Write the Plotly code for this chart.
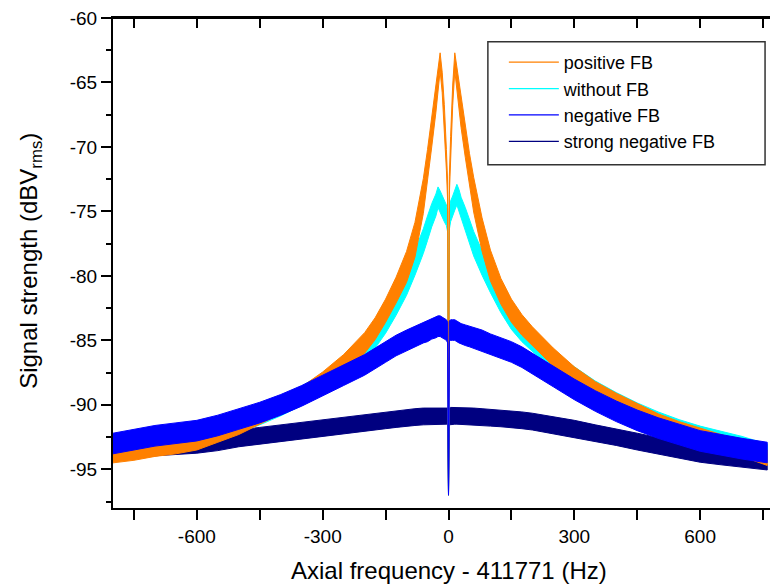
import plotly.graph_objects as go

# ---------------- data ----------------
FREQ = [-800, -750, -700, -650, -600, -550, -500, -450, -400, -350, -300, -250,
        -200, -175, -150, -125, -100, -80, -60, -50, -40, -30, -25, -20, -15,
        -10, -5, -2, 0, 2, 5, 10, 15, 20, 25, 30, 40, 50, 60, 80, 100, 125,
        150, 175, 200, 250, 300, 350, 400, 450, 500, 550, 600, 650, 700, 760]

# mean level of each noisy spectrum (dBVrms)
POSITIVE_FB = [-93.9, -93.7, -93.4, -93.2, -92.9, -92.3, -91.7, -90.9, -90.1, -89.2, -88.1, -86.8,
               -85.2, -84.1, -82.7, -81.1, -79.3, -77.2, -73.8, -71.5, -68.8, -66.3, -64.9, -63.4, -65.0,
               -67.5, -71.0, -73.5, -97.0, -73.0, -70.0, -66.0, -63.4, -64.7, -66.0, -67.4, -69.6, -71.8, -73.7, -76.8, -79.2, -81.2,
               -82.7, -83.8, -84.7, -86.3, -87.7, -88.8, -89.7, -90.5, -91.3, -91.9, -92.4, -92.9, -93.4, -94.1]
WITHOUT_FB = [-93.6, -93.4, -93.1, -92.8, -92.5, -92.0, -91.4, -90.8, -90.1, -89.3, -88.3, -87.1,
              -85.7, -84.8, -83.6, -82.2, -80.6, -79.0, -77.3, -76.3, -75.3, -74.5, -73.9, -74.2, -74.6,
              -75.0, -75.3, -75.8, -97.0, -75.6, -75.0, -74.6, -74.1, -73.7, -74.1, -74.7, -75.6, -76.5, -77.5, -79.0, -80.4, -82.0,
              -83.3, -84.3, -85.1, -86.6, -87.8, -88.9, -89.8, -90.6, -91.3, -91.9, -92.4, -92.8, -93.2, -93.8]
NEGATIVE_FB = [-93.0, -92.7, -92.4, -92.2, -92.0, -91.6, -91.1, -90.6, -90.0, -89.3, -88.5, -87.7,
               -86.9, -86.4, -85.9, -85.4, -85.0, -84.7, -84.4, -84.3, -84.1, -84.0, -83.9, -83.9, -84.0,
               -84.1, -84.2, -84.4, -97.0, -84.3, -84.2, -84.2, -84.2, -84.3, -84.4, -84.5, -84.6, -84.7, -84.8, -85.0, -85.3, -85.6,
               -85.9, -86.3, -86.8, -87.8, -88.8, -89.7, -90.5, -91.2, -91.8, -92.3, -92.8, -93.1, -93.4, -93.7]
STRONG_NEGATIVE_FB = [-93.5, -93.4, -93.3, -93.2, -93.1, -92.9, -92.6, -92.4, -92.2, -92.0, -91.8, -91.6,
                      -91.4, -91.3, -91.2, -91.1, -91.0, -90.95, -90.9, -90.9, -90.85, -90.85, -90.85, -90.85, -90.85,
                      -90.85, -90.85, -90.9, -97.0, -90.9, -90.85, -90.85, -90.85, -90.85, -90.85, -90.85, -90.85, -90.9, -90.9, -90.95, -91.0, -91.05,
                      -91.1, -91.2, -91.3, -91.55, -91.85, -92.2, -92.5, -92.85, -93.2, -93.5, -93.8, -94.0, -94.2, -94.4]

# half-height of the noise band around each mean level (dB)
POSITIVE_SPREAD = [0.6] * 10 + [0.65, 0.7, 0.8, 0.85, 0.9, 1.0, 1.2, 1.35, 1.35, 1.3, 1.2, 1.0, 0.9, 0.7,
                                0.8, 0.8, 0.8, 0.7, 0.0, 0.7, 0.8, 0.8, 0.7, 0.9, 1.0, 1.1, 1.2, 1.3, 1.35,
                                1.3, 1.2, 1.0, 0.9, 0.8, 0.75, 0.7, 0.65] + [0.6] * 9
WITHOUT_SPREAD = [0.75] * 12 + [0.8, 0.8, 0.85, 0.85, 0.9, 0.95, 0.95, 0.95, 0.9, 0.85, 0.8, 0.8, 0.8, 0.8,
                                0.8, 0.8, 0.0, 0.8, 0.8, 0.8, 0.8, 0.8, 0.8, 0.8, 0.9, 0.95, 0.95, 0.95, 0.9,
                                0.85, 0.85, 0.8, 0.8] + [0.75] * 11
NEGATIVE_SPREAD = [0.8] * 28 + [0.0] + [0.8] * 27
STRONG_SPREAD = [0.65] * 28 + [0.0] + [0.65] * 27

SERIES_NAMES = ["positive FB", "without FB", "negative FB", "strong negative FB"]

X_TICKS = [-750, -600, -450, -300, -150, 0, 150, 300, 450, 600, 750]
X_TICK_LABELS = ["", "-600", "", "-300", "", "0", "", "300", "", "600", ""]
Y_TICKS = [-95, -90, -85, -80, -75, -70, -65, -60]
Y_TICK_LABELS = ["-95", "-90", "-85", "-80", "-75", "-70", "-65", "-60"]

# ---------------- styling ----------------
COLORS = {"positive FB": "#FF8000", "without FB": "#00FFFF",
          "negative FB": "#0000FF", "strong negative FB": "#000080"}
VALUES = {"positive FB": (POSITIVE_FB, POSITIVE_SPREAD),
          "without FB": (WITHOUT_FB, WITHOUT_SPREAD),
          "negative FB": (NEGATIVE_FB, NEGATIVE_SPREAD),
          "strong negative FB": (STRONG_NEGATIVE_FB, STRONG_SPREAD)}
DRAW_ORDER = ["strong negative FB", "without FB", "positive FB", "negative FB"]

FONT = "Liberation Sans, Arial, sans-serif"
X_RANGE = [-800, 800]
Y_RANGE = [-98, -60]

fig = go.Figure()

# noisy spectra drawn as bands (noise envelope around the mean level)
for name in DRAW_ORDER:
    center, spread = VALUES[name]
    upper = [c + s for c, s in zip(center, spread)]
    lower = [c - s for c, s in zip(center, spread)]
    fig.add_trace(go.Scatter(
        x=FREQ + FREQ[::-1], y=upper + lower[::-1],
        mode="lines", fill="toself", fillcolor=COLORS[name],
        line=dict(color=COLORS[name], width=1),
        showlegend=False, hoverinfo="skip"))

# legend entries (line samples only)
for rank, name in enumerate(SERIES_NAMES):
    fig.add_trace(go.Scatter(
        x=[None], y=[None], mode="lines", name=name,
        line=dict(color=COLORS[name], width=1.3),
        legendrank=rank + 1))

# empty trace so that the top frame axis (inward ticks) gets drawn
fig.add_trace(go.Scatter(x=[None], y=[None], xaxis="x2", yaxis="y",
                         showlegend=False, hoverinfo="skip"))

fig.update_layout(
    width=778, height=587,
    margin=dict(l=105, r=0, t=6, b=87),
    paper_bgcolor="white", plot_bgcolor="white",
    font=dict(family=FONT, color="black"),
    xaxis=dict(range=X_RANGE, tickmode="array", tickvals=X_TICKS, ticktext=X_TICK_LABELS,
               ticks="outside", ticklen=10, tickwidth=2, tickcolor="black",
               showline=True, linecolor="black", linewidth=2, mirror=True,
               showgrid=False, zeroline=False,
               tickfont=dict(family=FONT, size=19, color="black")),
    xaxis2=dict(range=X_RANGE, overlaying="x", side="top", anchor="y",
                tickvals=X_TICKS, ticks="inside", ticklen=10, tickcolor="black", tickwidth=2,
                showticklabels=False, showline=True, linecolor="black", linewidth=2,
                showgrid=False, zeroline=False),
    yaxis=dict(range=Y_RANGE, tickmode="array", tickvals=Y_TICKS, ticktext=Y_TICK_LABELS,
               ticks="outside", ticklen=10, tickwidth=2, tickcolor="black",
               showline=True, linecolor="black", linewidth=2, mirror=True,
               showgrid=False, zeroline=False, ticklabeloverflow="allow",
               tickfont=dict(family=FONT, size=19, color="black"),
               minor=dict(ticks="outside", ticklen=5, tickwidth=2, tickcolor="black",
                          tickmode="linear", tick0=-97.5, dtick=5)),
    legend=dict(x=0.5825, y=0.947, xanchor="left", yanchor="top",
                borderwidth=0, bgcolor="rgba(0,0,0,0)",
                font=dict(family=FONT, size=18, color="black"),
                itemwidth=50, tracegroupgap=0),
    shapes=[
        # legend frame
        dict(type="rect", xref="paper", yref="paper",
             x0=(489 - 113) / 673, x1=(767 - 113) / 673,
             y0=(508 - 162) / 494, y1=(508 - 38) / 494,
             line=dict(color="#333333", width=1.5), fillcolor="rgba(0,0,0,0)"),
        # top frame line of the plot box
        dict(type="line", xref="paper", yref="paper", x0=0, x1=1, y0=1, y1=1,
             line=dict(color="black", width=2)),
    ],
    annotations=[
        dict(text="Axial frequency - 411771 (Hz)", xref="x", yref="paper",
             x=0, y=-0.1275, xanchor="center", yanchor="middle", showarrow=False,
             font=dict(family=FONT, size=24, color="black")),
        dict(text="Signal strength (dBV<sub>rms</sub>)", xref="paper", yref="paper",
             x=-0.1233, y=0.505, xanchor="center", yanchor="middle", textangle=-90,
             showarrow=False, font=dict(family=FONT, size=24, color="black")),
    ],
)

fig.write_html("out.html")
